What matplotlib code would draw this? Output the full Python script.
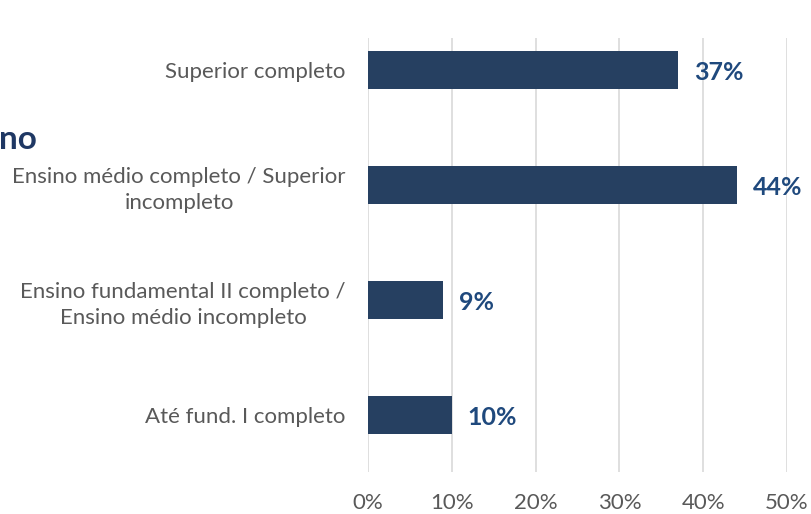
import matplotlib.pyplot as plt

# escolaridade (de baixo para cima no grafico)
categorias = [
    "Até fund. I completo",
    "Ensino fundamental II completo /\nEnsino médio incompleto",
    "Ensino médio completo / Superior\nincompleto",
    "Superior completo",
]
valores = [10, 9, 44, 37]
ticks = [0, 10, 20, 30, 40, 50]
tick_labels = ["0%", "10%", "20%", "30%", "40%", "50%"]

plt.rcParams['font.family'] = ['Lato', 'DejaVu Sans']

fig = plt.figure(figsize=(8.11, 5.14), dpi=100)
ax = fig.add_axes([368 / 811, 1 - 472 / 514, (787 - 368) / 811, (472 - 38) / 514])

pos = list(range(len(categorias)))
ax.barh(pos, valores, height=0.33, color="#264061", zorder=3)

for p, v in zip(pos, valores):
    ax.annotate(f"{v}%", xy=(v, p), xytext=(11.5, -2), textcoords="offset points",
                va="center", ha="left", fontsize=18, fontweight="bold",
                color="#1F497D")

ax.set_xlim(0, 50)
ax.set_ylim(-0.5, 3.28)
ax.set_xticks(ticks)
ax.set_xticklabels(tick_labels)
ax.set_yticks(pos)
ax.set_yticklabels(categorias, ha="right", multialignment="center",
                   linespacing=1.4)
ax.tick_params(axis="y", length=0, pad=16, labelsize=16, labelcolor="#595959")
ax.tick_params(axis="x", length=0, pad=15, labelsize=16, labelcolor="#595959")

ax.grid(axis="x", color="#D9D9D9", linewidth=1.2, zorder=0)
for s in ax.spines.values():
    s.set_visible(False)

# pedaco do titulo cortado na esquerda
fig.text(37 / 811, 1 - 140 / 514, "no", ha="right", va="center",
         fontsize=24, fontweight="bold", color="#1F3864")

fig.savefig("out.png", dpi=100)
